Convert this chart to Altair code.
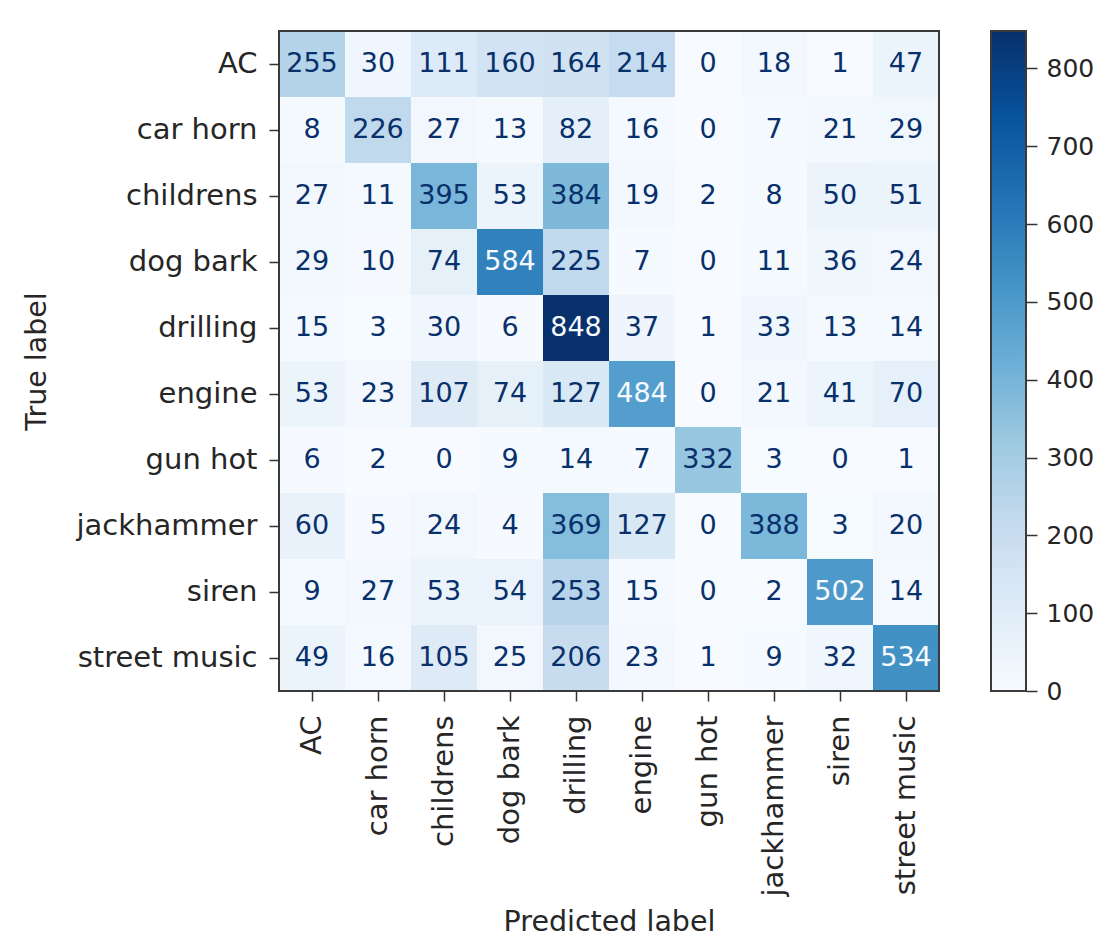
import altair as alt
import pandas as pd

labels = ["AC", "car horn", "childrens", "dog bark", "drilling",
          "engine", "gun hot", "jackhammer", "siren", "street music"]

row_ac = [255, 30, 111, 160, 164, 214, 0, 18, 1, 47]
row_car_horn = [8, 226, 27, 13, 82, 16, 0, 7, 21, 29]
row_childrens = [27, 11, 395, 53, 384, 19, 2, 8, 50, 51]
row_dog_bark = [29, 10, 74, 584, 225, 7, 0, 11, 36, 24]
row_drilling = [15, 3, 30, 6, 848, 37, 1, 33, 13, 14]
row_engine = [53, 23, 107, 74, 127, 484, 0, 21, 41, 70]
row_gun_hot = [6, 2, 0, 9, 14, 7, 332, 3, 0, 1]
row_jackhammer = [60, 5, 24, 4, 369, 127, 0, 388, 3, 20]
row_siren = [9, 27, 53, 54, 253, 15, 0, 2, 502, 14]
row_street_music = [49, 16, 105, 25, 206, 23, 1, 9, 32, 534]

rows = [row_ac, row_car_horn, row_childrens, row_dog_bark, row_drilling,
        row_engine, row_gun_hot, row_jackhammer, row_siren, row_street_music]

colorbar_ticks = [0, 100, 200, 300, 400, 500, 600, 700, 800]

# matplotlib "Blues" anchor colours
blues = ["#f7fbff", "#deebf7", "#c6dbef", "#9ecae1", "#6baed6",
         "#4292c6", "#2171b5", "#08519c", "#08306b"]

records = []
for t, vals in zip(labels, rows):
    for p, v in zip(labels, vals):
        records.append({"true": t, "pred": p, "count": v})
df = pd.DataFrame(records)

cmin = int(df["count"].min())
cmax = int(df["count"].max())
thresh = (cmin + cmax) / 2.0

FONT = "DejaVu Sans"
TXT = "#262626"
FRAME = "#3a3a3a"
W = 660
H = 660

base = alt.Chart(df).encode(
    x=alt.X("pred:N", sort=labels, title="Predicted label",
            scale=alt.Scale(paddingInner=0, paddingOuter=0),
            axis=alt.Axis(labelAngle=270, labelFontSize=29, titleFontSize=28.5,
                          tickSize=10, labelPadding=14, titlePadding=16,
                          labelLimit=400,
                          domain=False, tickColor="#333333", tickWidth=1.5,
                          labelColor=TXT, titleColor=TXT, titleFontWeight="normal",
                          labelFont=FONT, titleFont=FONT)),
    y=alt.Y("true:N", sort=labels, title="True label",
            scale=alt.Scale(paddingInner=0, paddingOuter=0),
            axis=alt.Axis(labelFontSize=29, titleFontSize=28.5,
                          tickSize=10, labelPadding=12, titlePadding=28,
                          labelLimit=400,
                          domain=False, tickColor="#333333", tickWidth=1.5,
                          labelColor=TXT, titleColor=TXT, titleFontWeight="normal",
                          labelFont=FONT, titleFont=FONT)),
)

cells = base.mark_rect().encode(
    color=alt.Color("count:Q",
                    scale=alt.Scale(domain=[cmin, cmax], range=blues, interpolate="rgb"),
                    legend=None)
)

nums = base.mark_text(fontSize=27, font=FONT).encode(
    text="count:Q",
    color=alt.condition(alt.datum["count"] > thresh,
                        alt.value("#f7fbff"), alt.value("#08306b")),
)

frame = alt.Chart(pd.DataFrame({"k": [0]})).mark_rect(
    fillOpacity=0, stroke=FRAME, strokeWidth=2
).encode(
    x=alt.value(0), x2=alt.value(W), y=alt.value(0), y2=alt.value(H)
)

heat = alt.layer(cells, nums, frame).properties(width=W, height=H)

cb_df = pd.DataFrame({"lo": [cmin], "hi": [cmax]})
stops = [alt.GradientStop(color=c, offset=i / (len(blues) - 1)) for i, c in enumerate(blues)]
colorbar = alt.Chart(cb_df).mark_rect(
    fill=alt.Gradient(gradient="linear", stops=stops, x1=0, x2=0, y1=1, y2=0),
    stroke=FRAME, strokeWidth=2
).encode(
    x=alt.value(0), x2=alt.value(35),
    y=alt.Y("lo:Q", scale=alt.Scale(domain=[cmin, cmax], nice=False, zero=True),
            axis=alt.Axis(orient="right", values=colorbar_ticks, title=None,
                          labelFontSize=25, tickSize=11, labelPadding=9,
                          domain=False, grid=False, tickColor="#333333", tickWidth=1.5,
                          labelColor=TXT, labelFont=FONT)),
    y2="hi:Q",
).properties(width=35, height=H)

chart = alt.hconcat(heat, colorbar, spacing=50).properties(
    padding={"left": 22, "top": 30, "right": 5, "bottom": 0},
    background="white",
).configure_view(
    stroke=None
)

chart.save("out.html", embed_options={"renderer": "svg", "actions": False})
